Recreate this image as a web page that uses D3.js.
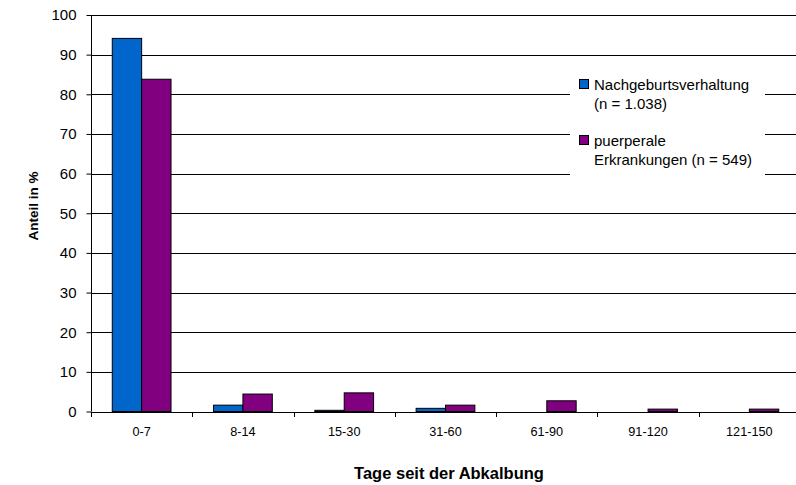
<html>
<head>
<script src="https://d3js.org/d3.v7.min.js"></script>
<style>
body { margin: 0; background: #fff; font-family: "Liberation Sans", Arial, sans-serif; }
text { font-family: "Liberation Sans", Arial, sans-serif; }
</style>
</head>
<body>
<div id="chart"></div>
<script>
// data
var categories = ["0-7", "8-14", "15-30", "31-60", "61-90", "91-120", "121-150"];
var seriesNames = ["Nachgeburtsverhaltung", "puerperale Erkrankungen"];
var nachgeburt = [94.1, 1.6, 0.3, 0.8, 0, 0, 0];
var puerperal = [83.8, 4.4, 4.7, 1.6, 2.7, 0.6, 0.6];
var yTicks = [0, 10, 20, 30, 40, 50, 60, 70, 80, 90, 100];
var colors = ["#0066cc", "#800080"];
var legendLines = [["Nachgeburtsverhaltung", "(n = 1.038)"], ["puerperale", "Erkrankungen (n = 549)"]];

var width = 796, height = 485;
var plotLeft = 91, plotRight = 800, plotTop = 15, plotBottom = 411.5;

var svg = d3.select("#chart").append("svg")
  .attr("width", width).attr("height", height);

var xScale = d3.scaleBand().domain(categories).range([plotLeft, plotRight])
  .paddingInner(0.42).paddingOuter(0.21);
var subScale = d3.scaleBand().domain([0, 1]).range([0, xScale.bandwidth()]);
var yScale = d3.scaleLinear().domain([0, 100]).range([plotBottom, plotTop]);

// gridlines
svg.append("g").selectAll("line").data(yTicks.filter(function (d) { return d > 0; }))
  .enter().append("line")
  .attr("x1", plotLeft).attr("x2", plotRight)
  .attr("y1", function (d) { return Math.round(yScale(d)) + 0.5; })
  .attr("y2", function (d) { return Math.round(yScale(d)) + 0.5; })
  .style("stroke", "#000").style("stroke-width", 1);

// bars
var rows = categories.map(function (c, i) { return { cat: c, vals: [nachgeburt[i], puerperal[i]] }; });
var groups = svg.append("g").selectAll("g").data(rows).enter().append("g")
  .attr("transform", function (d) { return "translate(" + xScale(d.cat) + ",0)"; });
groups.selectAll("rect").data(function (d) { return d.vals.map(function (v, k) { return { k: k, v: v }; }); })
  .enter().filter(function (d) { return d.v > 0; }).append("rect")
  .attr("x", function (d) { return subScale(d.k); })
  .attr("width", subScale.bandwidth())
  .attr("y", function (d) { return yScale(d.v); })
  .attr("height", function (d) { return plotBottom - yScale(d.v); })
  .style("fill", function (d) { return colors[d.k]; })
  .style("stroke", "#000").style("stroke-width", 1);

// y axis
var yAxis = d3.axisLeft(yScale).tickValues(yTicks).tickSize(5).tickPadding(10);
var yG = svg.append("g").attr("transform", "translate(" + (plotLeft + 0.5) + ",0)").call(yAxis);
yG.selectAll("text").style("font-size", "15px").style("fill", "#000");
yG.selectAll("line, path").style("stroke", "#000");
yG.select(".domain").attr("d", "M0," + plotTop + "V" + plotBottom);

// x axis with ticks at category boundaries
var xG = svg.append("g");
xG.append("line").attr("x1", plotLeft).attr("x2", plotRight)
  .attr("y1", Math.round(plotBottom) + 0.5).attr("y2", Math.round(plotBottom) + 0.5)
  .style("stroke", "#000");
xG.selectAll("line.tick").data(categories).enter().append("line").attr("class", "tick")
  .attr("x1", function (d) { return Math.round(xScale(d) - xScale.step() * 0.21) + 0.5; })
  .attr("x2", function (d) { return Math.round(xScale(d) - xScale.step() * 0.21) + 0.5; })
  .attr("y1", Math.round(plotBottom)).attr("y2", Math.round(plotBottom) + 5)
  .style("stroke", "#000");
xG.selectAll("text").data(categories).enter().append("text")
  .attr("x", function (d) { return xScale(d) + xScale.bandwidth() / 2; })
  .attr("y", 436)
  .attr("text-anchor", "middle")
  .style("font-size", "12.7px")
  .text(function (d) { return d; });

// axis titles
svg.append("text").attr("x", 449).attr("y", 479).attr("text-anchor", "middle")
  .style("font-size", "16.5px").style("font-weight", "bold").text("Tage seit der Abkalbung");
svg.append("text").attr("transform", "translate(38,206) rotate(-90)").attr("text-anchor", "middle")
  .style("font-size", "13.5px").style("font-weight", "bold").text("Anteil in %");

// legend
var legend = svg.append("g");
legend.append("rect").attr("x", 570).attr("y", 62).attr("width", 195).attr("height", 126)
  .style("fill", "#fff");
legendLines.forEach(function (lines, i) {
  var y0 = 90 + i * 56;
  legend.append("rect").attr("x", 579.5).attr("y", y0 - 10.5).attr("width", 9).attr("height", 9)
    .style("fill", colors[i]).style("stroke", "#000");
  lines.forEach(function (t, j) {
    legend.append("text").attr("x", 594).attr("y", y0 + j * 19)
      .style("font-size", "15px").text(t);
  });
});
</script>
</body>
</html>
